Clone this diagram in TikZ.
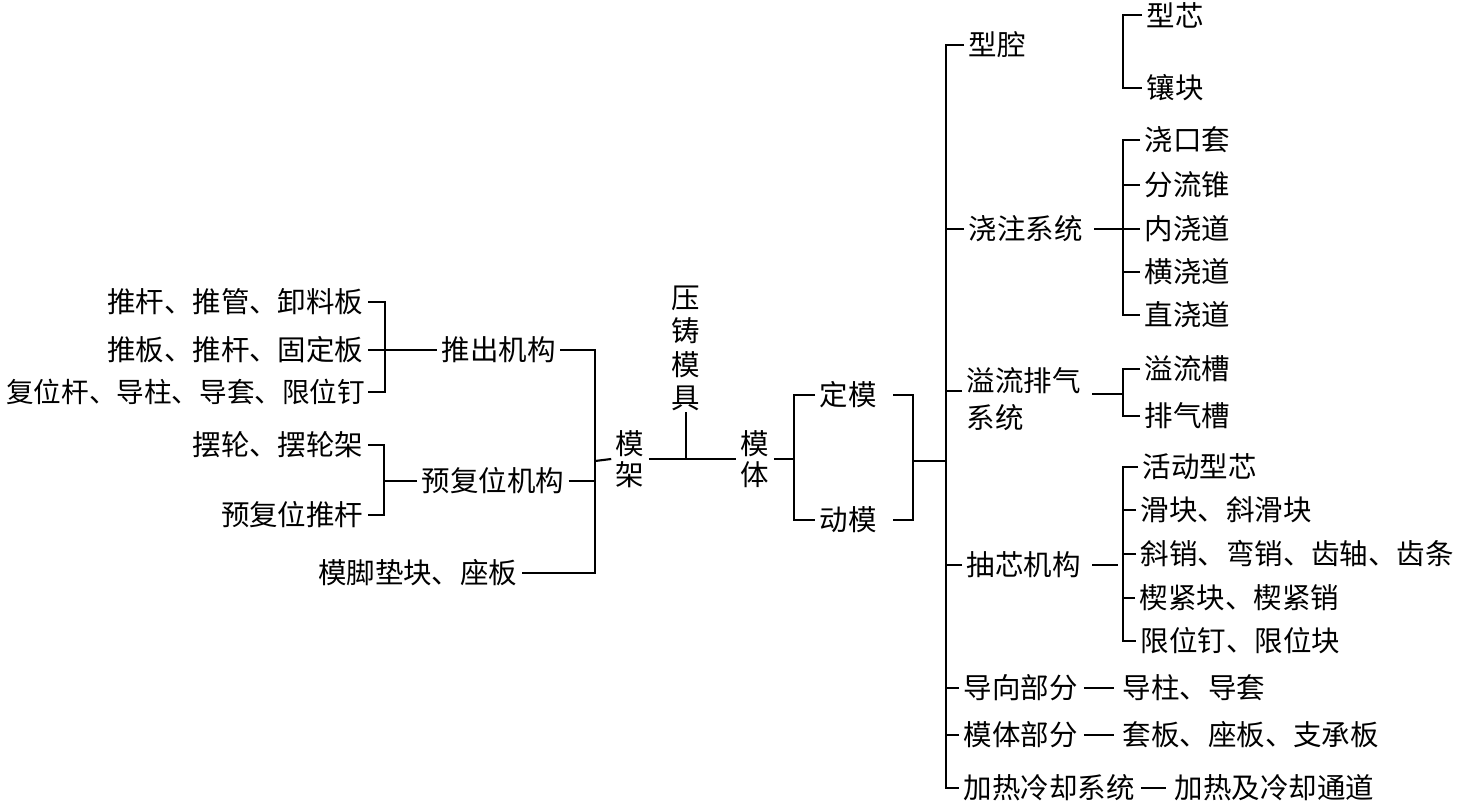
\documentclass[tikz,border=0pt]{standalone}
\usepackage{fontspec}
\setmainfont{Noto Sans CJK SC}
\usetikzlibrary{positioning}
\tikzset{
  lbl/.style={inner xsep=1pt,inner ysep=0pt,font=\fontsize{8.1pt}{10.5pt}\selectfont},
  vlbl/.style={lbl,align=center},
  gap/.style={shorten <=2pt},
  dash line/.style={shorten <=0.5pt,shorten >=1pt},
}

\begin{document}
\begin{tikzpicture}[x=0.01cm,y=-0.01cm,line width=0.6pt]
\useasboundingbox (0,0) rectangle (1478,806);
% left: ejection parts
\node[lbl,anchor=east] (tg1) at (368,302) {推杆、推管、卸料板};
\node[lbl,anchor=east] (tg2) at (368,350) {推板、推杆、固定板};
\node[lbl,anchor=east,inner xsep=0.5pt,font=\fontsize{7.85pt}{10pt}\selectfont] (tg3) at (368,392) {复位杆、导柱、导套、限位钉};
\node[lbl,anchor=west] (tc) at (437,350) {推出机构};
\node[lbl,anchor=east] (bl1) at (368,445) {摆轮、摆轮架};
\node[lbl,anchor=east] (bl2) at (368,515) {预复位推杆};
\node[lbl,anchor=west] (yf) at (417,481) {预复位机构};
\node[lbl,anchor=east] (mj) at (522,573) {模脚垫块、座板};
% centre
\node[vlbl,font=\fontsize{8.1pt}{8.8pt}\selectfont] (mjia) at (630,459) {模\\架};
\node[vlbl,font=\fontsize{8.1pt}{9.5pt}\selectfont,anchor=south] (yzmj) at (686,412) {压\\铸\\模\\具};
\node[vlbl,font=\fontsize{8.1pt}{8.8pt}\selectfont] (mt) at (755,459) {模\\体};
\node[lbl,anchor=west] (dm) at (815,395) {定模};
\node[lbl,anchor=west] (dongm) at (815,520) {动模};
% right: first level
\node[lbl,anchor=west] (xq) at (964,45) {型腔};
\node[lbl,anchor=west] (jz) at (964,229) {浇注系统};
\node[lbl,anchor=west,align=left,font=\fontsize{8.1pt}{10.5pt}\selectfont] (yl) at (962,399) {溢流排气\\系统};
\node[lbl,anchor=west] (cx) at (962,565) {抽芯机构};
\node[lbl,anchor=west] (dx) at (959,688) {导向部分};
\node[lbl,anchor=west] (mtb) at (959,735) {模体部分};
\node[lbl,anchor=west] (jr) at (959,788) {加热冷却系统};
% right: second level
\node[lbl,anchor=west] (xx) at (1142,15) {型芯};
\node[lbl,anchor=west] (xk) at (1142,88) {镶块};
\node[lbl,anchor=west] (jk) at (1140,140) {浇口套};
\node[lbl,anchor=west] (fl) at (1140,185) {分流锥};
\node[lbl,anchor=west] (nj) at (1140,229) {内浇道};
\node[lbl,anchor=west] (hj) at (1140,272) {横浇道};
\node[lbl,anchor=west] (zj) at (1140,315) {直浇道};
\node[lbl,anchor=west] (ylc) at (1140,369) {溢流槽};
\node[lbl,anchor=west] (pqc) at (1140,416) {排气槽};
\node[lbl,anchor=west] (hd) at (1138,467) {活动型芯};
\node[lbl,anchor=west] (hk) at (1136,510) {滑块、斜滑块};
\node[lbl,anchor=west] (xs) at (1136,554) {斜销、弯销、齿轴、齿条};
\node[lbl,anchor=west] (xj) at (1135,598) {楔紧块、楔紧销};
\node[lbl,anchor=west] (xw) at (1136,641) {限位钉、限位块};
\node[lbl,anchor=west] (dz) at (1118,688) {导柱、导套};
\node[lbl,anchor=west] (tb) at (1118,735) {套板、座板、支承板};
\node[lbl,anchor=west] (jrt) at (1170,788) {加热及冷却通道};
% spines
\coordinate (mjsp) at (595,461);
\coordinate (s4) at (913,461);
\coordinate (ms) at (946,461);
% left brackets
\draw (tg1.east) -- ++(17,0) coordinate (s1) |- (tg3.east);
\draw (tg2.east) -- (tc.west);
\draw (bl1.east) -- ++(16,0) coordinate (s2) |- (bl2.east);
\draw (yf.west) -- (yf.west -| s2);
\draw (tc.east) -| (mjsp) |- (mj.east);
\draw (yf.east) -- (yf.east -| mjsp);
\draw (mjsp) -- (mjia.west);
% centre links
\draw (mjia.east) -- (mt.west);
\draw (yzmj.south) -- (yzmj.south |- mt.west);
\draw (mt.east) -- ++(20,0) coordinate (s3);
\draw (dm.west) -| (s3) |- (dongm.west);
\draw ([xshift=0.12cm]dm.east) -| (s4) |- ([xshift=0.12cm]dongm.east);
\draw (s4) -- (ms);
% main spine
\draw (xq.west) -| (ms) |- (jr.west);
\foreach \n in {jz,cx,dx,mtb}
  \draw (\n.west) -- (\n.west -| ms);
\draw ([yshift=0.08cm]yl.west) -- ([yshift=0.08cm]yl.west -| ms);
% second level brackets
\draw (xx.west) -- ++(-19,0) |- (xk.west);
\draw (jk.west) -- ++(-17,0) coordinate (s5) |- (zj.west);
\foreach \n in {fl,hj}
  \draw (\n.west) -- (\n.west -| s5);
\draw[gap] (jz.east) -- (nj.west);
\draw (ylc.west) -- ++(-17,0) coordinate (s6) |- (pqc.west);
\draw[gap] ([yshift=0.05cm]yl.east) -- ([yshift=0.05cm]yl.east -| s6);
\draw (hd.west) -- ++(-15,0) coordinate (s7) |- (xw.west);
\foreach \n in {hk,xs,xj}
  \draw (\n.west) -- (\n.west -| s7);
\draw[gap] (cx.east) -- ([xshift=-0.05cm]cx.east -| s7);
\draw[dash line] (dx.east) -- (dz.west);
\draw[dash line] (mtb.east) -- (tb.west);
\draw[dash line] (jr.east) -- (jrt.west);
\end{tikzpicture}
\end{document}
